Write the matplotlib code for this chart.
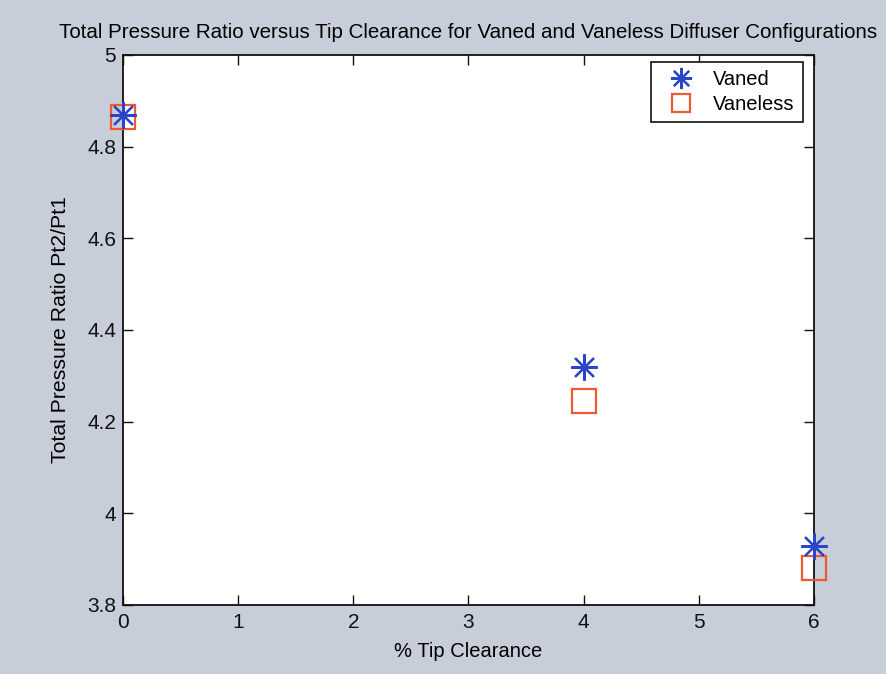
import matplotlib.pyplot as plt

# Datos
tip_clearance = [0, 4, 6]
vaned = [4.868, 4.320, 3.929]
vaneless = [4.865, 4.245, 3.881]

x_ticks = [0, 1, 2, 3, 4, 5, 6]
y_ticks = [3.8, 4.0, 4.2, 4.4, 4.6, 4.8, 5.0]
y_labels = ['3.8', '4', '4.2', '4.4', '4.6', '4.8', '5']

plt.rcParams['font.family'] = ['Liberation Sans', 'DejaVu Sans']

fondo = '#c8cdda'
W, H = 887, 674
fig = plt.figure(figsize=(W/100, H/100), dpi=100, facecolor=fondo)
# Ejes: izq 123, der 814, arriba 55, abajo 605 (pixeles)
ax = fig.add_axes([123/W, 1 - 605/H, (814-123)/W, (605-55)/H])
ax.set_facecolor('white')

ax.plot(tip_clearance, vaned, linestyle='none', marker=(8, 2, 0), markersize=19,
        markeredgewidth=1.6, color='#2a45c8', label='Vaned', clip_on=False, zorder=4)
ax.plot(tip_clearance, vaneless, linestyle='none', marker='s', markersize=17,
        markeredgewidth=1.6, markerfacecolor='none', markeredgecolor='#ee5a2c',
        label='Vaneless', clip_on=False, zorder=3)

ax.set_xlim(0, 6)
ax.set_ylim(3.8, 5.0)
ax.set_xticks(x_ticks)
ax.set_yticks(y_ticks)
ax.set_yticklabels(y_labels)
ax.tick_params(direction='in', length=7, width=1, labelsize=15, top=True, right=True,
               colors='#111111')
ax.tick_params(axis='x', pad=6)
ax.tick_params(axis='y', pad=5)
for s in ax.spines.values():
    s.set_linewidth(1.3)
    s.set_color('#111111')

ax.set_title('Total Pressure Ratio versus Tip Clearance for Vaned and Vaneless Diffuser Configurations',
             fontsize=14.8, pad=12)
ax.set_xlabel('% Tip Clearance', fontsize=14.5, labelpad=7)
ax.set_ylabel('Total Pressure Ratio Pt2/Pt1', fontsize=15.3, labelpad=12)

leg = ax.legend(loc='upper right', bbox_to_anchor=(0.984, 0.987), fontsize=14.5,
                fancybox=False, edgecolor='#111111', framealpha=1, markerscale=0.8,
                handlelength=2.2, handletextpad=0.5, borderpad=0.4, labelspacing=0.3,
                borderaxespad=0)
leg.get_frame().set_linewidth(1.2)

fig.savefig('out.png', dpi=100, facecolor=fondo)
